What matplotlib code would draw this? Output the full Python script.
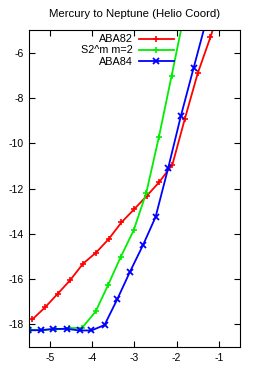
import matplotlib
matplotlib.use("Agg")
import matplotlib.pyplot as plt

plt.rcParams['font.family'] = ['Liberation Sans', 'DejaVu Sans']

# ABA82
aba82_x = [-5.42, -5.12, -4.82, -4.52, -4.22, -3.91, -3.61, -3.31, -3.01, -2.71, -2.41, -2.10, -1.81, -1.50, -1.20, -0.90]
aba82_y = [-17.78, -17.25, -16.65, -16.04, -15.32, -14.83, -14.23, -13.50, -12.92, -12.33, -11.71, -10.94, -8.95, -6.91, -5.32, -3.6]
# S2^m m=2
s2m_x = [-5.46, -5.16, -4.86, -4.56, -4.24, -3.92, -3.63, -3.33, -3.02, -2.72, -2.42, -2.12, -1.82]
s2m_y = [-18.24, -18.24, -18.22, -18.17, -18.15, -17.43, -16.28, -15.04, -13.85, -12.19, -9.72, -7.03, -4.3]
# ABA84
aba84_x = [-5.52, -5.22, -4.92, -4.60, -4.30, -4.02, -3.71, -3.41, -3.11, -2.80, -2.50, -2.20, -1.90, -1.60, -1.30]
aba84_y = [-18.26, -18.26, -18.20, -18.20, -18.27, -18.27, -18.03, -16.90, -15.69, -14.51, -13.26, -11.09, -8.80, -6.69, -4.6]

xticks = [-5, -4, -3, -2, -1]
yticks = [-18, -16, -14, -12, -10, -8, -6]

fig = plt.figure(figsize=(2.66, 3.69), dpi=100)
ax = fig.add_axes([0.109, 0.0596, 0.793, 0.8591])

ax.plot(aba82_x, aba82_y, color='#ff0000', lw=1.3, marker='+', ms=5, mew=1.2, label='ABA82')
ax.plot(s2m_x, s2m_y, color='#00ee00', lw=1.3, marker='+', ms=5, mew=1.2, label='S2^m m=2')
ax.plot(aba84_x, aba84_y, color='#0000ff', lw=1.3, marker='x', ms=4.5, mew=1.3, label='ABA84')

ax.set_xlim(-5.5, -0.5)
ax.set_ylim(-19, -5)
ax.set_xticks(xticks)
ax.set_yticks(yticks)
ax.set_xticklabels([str(v) for v in xticks])
ax.set_yticklabels([str(v) for v in yticks])
ax.tick_params(direction='in', length=4, width=0.8, top=True, right=True, labelsize=7.5, pad=4)
for s in ax.spines.values():
    s.set_linewidth(0.8)

ax.set_title('Mercury to Neptune (Helio Coord)', fontsize=8.2, pad=9)

ax.legend(loc='upper right', bbox_to_anchor=(0.725, 1.01), frameon=False, markerfirst=False,
          fontsize=7.8, handlelength=3.3, labelspacing=0.1, handletextpad=0.5, borderpad=0.2)

fig.savefig('out.png', dpi=100)
